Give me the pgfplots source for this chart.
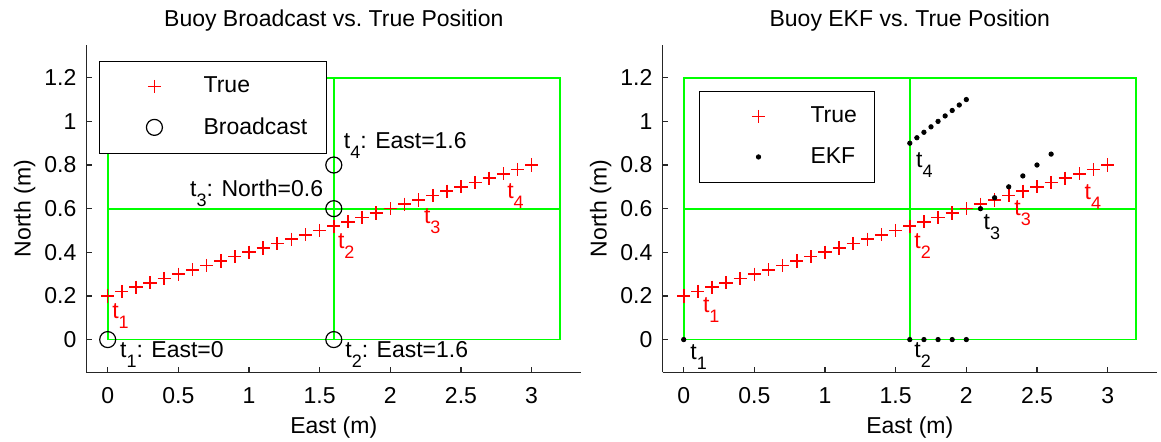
\documentclass[border=0pt]{standalone}
\usepackage{fontspec}
\setmainfont{Liberation Sans}
\usepackage{pgfplots}
\usepackage{pgfplotstable}
\pgfplotsset{compat=1.18}

\definecolor{gridgreen}{rgb}{0,1,0}
\newcommand{\lbl}{\fontsize{11.5}{13.8}\selectfont}
% t with a lowered subscript index
\newcommand{\tsub}[1]{t\raisebox{-5pt}{\fontsize{9}{9}\selectfont #1}}

% true buoy track
\pgfplotstableread{
x    y
0.0  0.20
0.1  0.22
0.2  0.24
0.3  0.26
0.4  0.28
0.5  0.30
0.6  0.32
0.7  0.34
0.8  0.36
0.9  0.38
1.0  0.40
1.1  0.42
1.2  0.44
1.3  0.46
1.4  0.48
1.5  0.50
1.6  0.52
1.7  0.54
1.8  0.56
1.9  0.58
2.0  0.60
2.1  0.62
2.2  0.64
2.3  0.66
2.4  0.68
2.5  0.70
2.6  0.72
2.7  0.74
2.8  0.76
2.9  0.78
3.0  0.80
}\truepos

% broadcast fixes
\pgfplotstableread{
x    y
0.0  0.0
1.6  0.0
1.6  0.6
1.6  0.8
}\broadcast

% EKF estimates
\pgfplotstableread{
x     y
0.0   0.0
1.6   0.0
1.7   0.0
1.8   0.0
1.9   0.0
2.0   0.0
2.1   0.60
2.2   0.65
2.3   0.70
2.4   0.75
2.5   0.80
2.6   0.85
1.6   0.900
1.65  0.925
1.7   0.950
1.75  0.975
1.8   1.000
1.85  1.025
1.9   1.050
1.95  1.075
2.0   1.100
}\ekf

\pgfplotsset{
  buoy/.style={
    scale only axis, width=247.3pt, height=163.65pt,
    xmin=-0.15, xmax=3.35, ymin=-0.15, ymax=1.35,
    clip=false,
    axis x line*=bottom, axis y line*=left,
    axis line style={-, line width=0.7pt, draw=black!85},
    xtick={0,0.5,1,1.5,2,2.5,3},
    ytick={0,0.2,0.4,0.6,0.8,1,1.2},
    tick align=inside, major tick length=2.6pt,
    every tick/.style={line width=0.7pt, draw=black!85},
    /pgf/number format/assume math mode=true,
    xticklabel style={font=\lbl, anchor=base, inner sep=0pt, yshift=-15.5pt},
    yticklabel style={font=\lbl, anchor=east, inner sep=0pt, xshift=-4.9pt},
    xlabel={East (m)}, ylabel={North (m)},
    xlabel style={at={(axis description cs:0.5,-0.1855)}, anchor=base, inner sep=0pt, font=\lbl},
    ylabel style={at={(axis description cs:-0.113,0.5)}, anchor=base, inner sep=0pt, font=\lbl},
    every axis title shift=0pt,
    title style={at={(axis description cs:0.5,1.058)}, anchor=base, inner sep=0pt, font=\lbl},
    legend style={anchor=north west, draw=black, line width=0.5pt, fill=white,
      cells={anchor=west}, nodes={inner sep=0pt}, font=\lbl,
      row sep=10.8pt, inner ysep=8pt},
  },
  green box/.style={gridgreen, line width=0.9pt, forget plot},
}
\tikzset{annot/.style={anchor=base west, inner sep=0pt, font=\lbl}}

\begin{document}
\begin{tikzpicture}
\useasboundingbox (0,0) rectangle (580.5pt,220.5pt);

% ---------------- broadcast fixes ----------------
\begin{axis}[buoy, at={(43.25pt,34.35pt)}, anchor=south west,
  title={Buoy Broadcast vs.\ True Position},
  legend style={at={(axis description cs:0.0243,0.9523)}, inner xsep=9.9pt},
  legend image code/.code={\path[draw=none,fill=none] (0pt,0pt) -- (42.4pt,0pt);
    \draw[#1] plot coordinates {(17.8pt,0pt)};}]
\addplot[green box] coordinates {(0,0) (3.2,0) (3.2,1.2) (0,1.2) (0,0)};
\addplot[green box] coordinates {(1.6,0) (1.6,1.2)};
\addplot[green box] coordinates {(0,0.6) (3.2,0.6)};
\addplot[only marks, mark=+, red, mark size=3.3pt, line width=0.8pt] table[x=x,y=y] {\truepos};
\addlegendentry{True}
\addplot[only marks, mark=o, black, mark size=4pt, line width=0.6pt] table[x=x,y=y] {\broadcast};
\addlegendentry{Broadcast}

\node[annot] at (axis cs:0.085,-0.080) {\tsub{1}: East=0};
\node[annot] at (axis cs:1.679,-0.080) {\tsub{2}: East=1.6};
\node[annot] at (axis cs:0.581,0.656) {\tsub{3}: North=0.6};
\node[annot] at (axis cs:1.669,0.877) {\tsub{4}: East=1.6};
\node[annot, text=red] at (axis cs:0.030,0.095) {\tsub{1}};
\node[annot, text=red] at (axis cs:1.627,0.419) {\tsub{2}};
\node[annot, text=red] at (axis cs:2.236,0.534) {\tsub{3}};
\node[annot, text=red] at (axis cs:2.825,0.648) {\tsub{4}};
\end{axis}

% ---------------- EKF estimates ----------------
\begin{axis}[buoy, at={(331.25pt,34.35pt)}, anchor=south west,
  title={Buoy EKF vs.\ True Position},
  legend style={at={(axis description cs:0.0734,0.8607)}, inner xsep=8.7pt},
  legend image code/.code={\path[draw=none,fill=none] (0pt,0pt) -- (46.9pt,0pt);
    \draw[#1] plot coordinates {(20.9pt,0pt)};}]
\addplot[only marks, mark=+, red, mark size=3.3pt, line width=0.8pt] table[x=x,y=y] {\truepos};
\addlegendentry{True}
\addplot[green box] coordinates {(0,0) (3.2,0) (3.2,1.2) (0,1.2) (0,0)};
\addplot[green box] coordinates {(1.6,0) (1.6,1.2)};
\addplot[green box] coordinates {(0,0.6) (3.2,0.6)};
\addplot[only marks, mark=*, black, mark size=1.1pt, line width=0.4pt] table[x=x,y=y] {\ekf};
\addlegendentry{EKF}

\node[annot] at (axis cs:0.045,-0.090) {\tsub{1}};
\node[annot] at (axis cs:1.630,-0.084) {\tsub{2}};
\node[annot] at (axis cs:2.120,0.503) {\tsub{3}};
\node[annot] at (axis cs:1.642,0.790) {\tsub{4}};
\node[annot, text=red] at (axis cs:0.134,0.122) {\tsub{1}};
\node[annot, text=red] at (axis cs:1.630,0.419) {\tsub{2}};
\node[annot, text=red] at (axis cs:2.338,0.570) {\tsub{3}};
\node[annot, text=red] at (axis cs:2.835,0.644) {\tsub{4}};
\end{axis}
\end{tikzpicture}
\end{document}
